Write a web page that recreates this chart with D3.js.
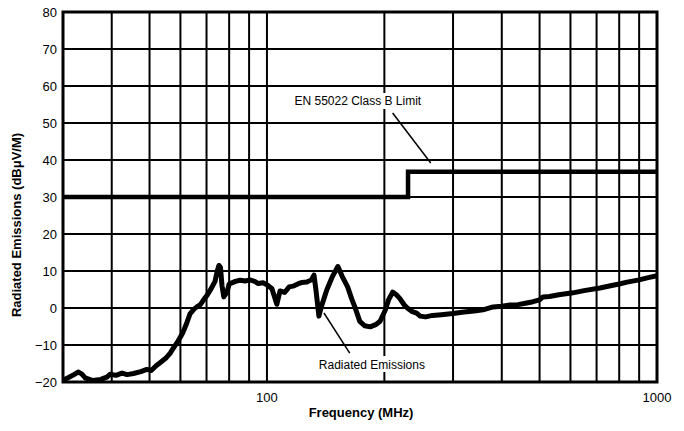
<!DOCTYPE html>
<html>
<head>
<meta charset="utf-8">
<script src="https://cdn.jsdelivr.net/npm/d3@7/dist/d3.min.js"></script>
<style>
  html, body { margin: 0; padding: 0; background: #fff; }
  svg { display: block; font-family: "Liberation Sans", Arial, Helvetica, sans-serif; }
</style>
</head>
<body>
<svg id="chart" width="684" height="431"></svg>
<script>
// ---- data ----
const yTicks = [-20, -10, 0, 10, 20, 30, 40, 50, 60, 70, 80];
const xGridTicks = [40, 50, 60, 70, 80, 90, 100, 200, 300, 400, 500, 600, 700, 800, 900];
const xTickLabels = [100, 1000];

const limitFreq = [30, 230, 230, 1000];
const limitLevel = [30, 30, 36.8, 36.8];

const emFreq = [30, 31, 32, 32.8, 33.5, 34.2, 35.8, 37.5, 39, 39.6, 41, 42.5, 43.8, 45.5, 47.5, 49.2,
  50.5, 52, 53.2, 55, 56.5, 57.4, 59, 60.9, 62, 63.5, 65, 66.1, 67.5, 69, 70.2, 72, 73.6, 74.5, 75.3,
  76, 76.7, 77.5, 79, 80, 81.3, 83, 85.3, 88, 90.4, 93, 95, 97.7, 100, 103, 106, 108, 111, 114, 116.6,
  120, 123, 126.6, 130, 132, 133.5, 135.9, 138, 142.5, 147, 152, 156, 161, 165, 168, 173, 178, 184,
  190, 195, 201, 205, 210, 215, 219, 225, 229, 235, 242, 247, 255, 266, 280, 300, 320, 340, 358, 380,
  400, 420, 440, 460, 481, 500, 510, 530, 560, 609, 650, 714, 760, 800, 838, 900, 950, 1000];
const emLevel = [-19.5, -18.8, -18.0, -17.3, -17.8, -18.9, -19.6, -19.3, -18.6, -17.9, -18.2, -17.6, -18.0, -17.7, -17.2, -16.6,
  -16.9, -15.6, -14.8, -13.6, -12.2, -11.0, -9.2, -6.6, -4.6, -1.6, -0.3, 0.3, 0.9, 2.4, 3.4, 5.3, 7.2, 9.8, 11.5,
  11.0, 6.0, 3.0, 4.3, 6.5, 6.8, 7.2, 7.5, 7.3, 7.6, 7.2, 6.6, 6.8, 6.3, 5.2, 1.0, 4.6, 4.2, 5.7, 5.9,
  6.5, 6.9, 7.0, 7.6, 8.9, 5.0, -2.2, 0.5, 5.0, 8.4, 11.2, 8.5, 5.7, 2.4, 0.3, -3.6, -4.8, -5.1,
  -4.5, -3.6, -0.6, 2.2, 4.3, 3.5, 2.6, 0.8, 0.0, -0.9, -1.4, -2.2, -2.4, -2.0, -1.8, -1.5, -1.1, -0.8, -0.5, 0.3,
  0.5, 0.8, 0.9, 1.3, 1.7, 2.2, 3.0, 3.1, 3.6, 4.1, 4.7, 5.4, 6.0, 6.5, 7.0, 7.6, 8.2, 8.7];

// ---- layout ----
const svg = d3.select("#chart");
const mLeft = 63, mRight = 657, mTop = 12, mBottom = 382;

const x = d3.scaleLog().domain([30, 1000]).range([mLeft, mRight]);
const y = d3.scaleLinear().domain([-20, 80]).range([mBottom, mTop]);

// grid
const g = svg.append("g");
g.selectAll("line.hg").data(yTicks.slice(1, -1)).join("line")
  .attr("x1", mLeft).attr("x2", mRight)
  .attr("y1", d => y(d)).attr("y2", d => y(d))
  .attr("stroke", "#000").attr("stroke-width", 2);
g.selectAll("line.vg").data(xGridTicks).join("line")
  .attr("y1", mTop).attr("y2", mBottom)
  .attr("x1", d => x(d)).attr("x2", d => x(d))
  .attr("stroke", "#000").attr("stroke-width", 2);

// emission curve
const line = d3.line().x(d => x(d[0])).y(d => y(d[1]));
svg.append("path")
  .attr("d", line(emFreq.map((f, i) => [f, emLevel[i]])))
  .attr("fill", "none").attr("stroke", "#000").attr("stroke-width", 5)
  .attr("stroke-linejoin", "round");

// limit
svg.append("path")
  .attr("d", line(limitFreq.map((f, i) => [f, limitLevel[i]])))
  .attr("fill", "none").attr("stroke", "#000").attr("stroke-width", 4.5);

// frame
svg.append("rect").attr("x", mLeft).attr("y", mTop)
  .attr("width", mRight - mLeft).attr("height", mBottom - mTop)
  .attr("fill", "none").attr("stroke", "#000").attr("stroke-width", 3);

// y tick labels
svg.selectAll("text.yt").data(yTicks).join("text")
  .attr("x", 57).attr("y", d => y(d))
  .attr("text-anchor", "end").attr("dominant-baseline", "central")
  .attr("font-size", 13)
  .text(d => d < 0 ? "\u2212" + Math.abs(d) : d);

// x tick labels
svg.selectAll("text.xt").data(xTickLabels).join("text")
  .attr("x", d => x(d)).attr("y", 402)
  .attr("text-anchor", "middle").attr("font-size", 13)
  .text(d => d);

// axis titles
svg.append("text").attr("x", 361).attr("y", 417)
  .attr("text-anchor", "middle").attr("font-size", 13).attr("font-weight", "bold")
  .text("Frequency (MHz)");
svg.append("text").attr("transform", "translate(21,225) rotate(-90)")
  .attr("text-anchor", "middle").attr("font-size", 13).attr("font-weight", "bold")
  .text("Radiated Emissions (dBμV/M)");

// annotations
svg.append("rect").attr("x", 289).attr("y", 93).attr("width", 139).attr("height", 16).attr("fill", "#fff");
svg.append("text").attr("x", x(171)).attr("y", y(54.9))
  .attr("text-anchor", "middle").attr("font-size", 12).text("EN 55022 Class B Limit");
svg.append("line").attr("x1", x(210)).attr("y1", y(52.7)).attr("x2", x(263)).attr("y2", y(39.2))
  .attr("stroke", "#000").attr("stroke-width", 1.5);

svg.append("rect").attr("x", 313).attr("y", 356).attr("width", 118).attr("height", 16).attr("fill", "#fff");
svg.append("text").attr("x", x(185.8)).attr("y", y(-16.5))
  .attr("text-anchor", "middle").attr("font-size", 12).text("Radiated Emissions");
svg.append("line").attr("x1", x(140)).attr("y1", y(-1.35)).attr("x2", x(163)).attr("y2", y(-12.2))
  .attr("stroke", "#000").attr("stroke-width", 1.5);
</script>
</body>
</html>
